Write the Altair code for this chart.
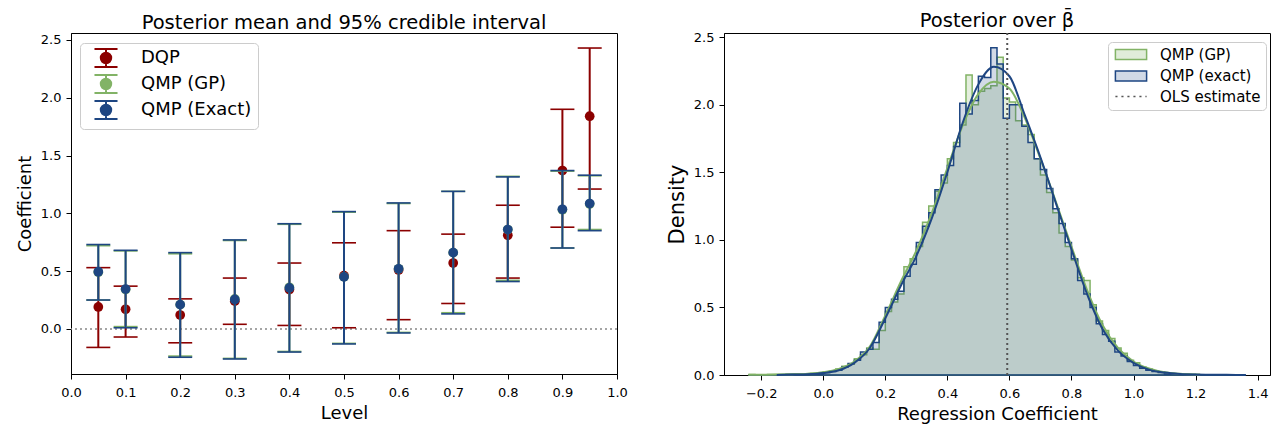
import altair as alt
import pandas as pd
import numpy as np

# ---------------- Left panel data ----------------
levels = [0.05, 0.1, 0.2, 0.3, 0.4, 0.5, 0.6, 0.7, 0.8, 0.9, 0.95]
dqp_mean = [0.19, 0.17, 0.12, 0.24, 0.34, 0.46, 0.51, 0.57, 0.81, 1.37, 1.84]
dqp_lo = [-0.16, -0.07, -0.12, 0.04, 0.03, 0.01, 0.08, 0.22, 0.44, 0.88, 1.21]
dqp_hi = [0.53, 0.37, 0.26, 0.44, 0.57, 0.745, 0.85, 0.82, 1.07, 1.90, 2.43]
gp_mean = [0.49, 0.34, 0.21, 0.26, 0.36, 0.45, 0.52, 0.66, 0.86, 1.03, 1.08]
gp_lo = [0.25, 0.02, -0.235, -0.255, -0.195, -0.125, -0.03, 0.14, 0.42, 0.70, 0.86]
gp_hi = [0.72, 0.675, 0.65, 0.765, 0.905, 1.01, 1.085, 1.19, 1.32, 1.365, 1.325]
exact_mean = [0.495, 0.345, 0.21, 0.255, 0.355, 0.45, 0.52, 0.66, 0.86, 1.035, 1.085]
exact_lo = [0.25, 0.01, -0.245, -0.26, -0.2, -0.13, -0.035, 0.13, 0.41, 0.70, 0.85]
exact_hi = [0.73, 0.68, 0.66, 0.77, 0.91, 1.015, 1.09, 1.19, 1.315, 1.37, 1.33]

left_names = ["DQP", "QMP (GP)", "QMP (Exact)"]
left_colors = ["#8b0000", "#82b366", "#1e4682"]

# ---------------- Right panel data ----------------
bin_start = -0.24
bin_width = 0.02
hist_gp = [0.003, 0.0, 0.002, 0.003, 0.003, 0.004, 0.005, 0.006, 0.008, 0.01, 0.012, 0.016,
           0.022, 0.03, 0.045, 0.065, 0.08, 0.12, 0.15, 0.2, 0.19, 0.33, 0.47, 0.54, 0.6, 0.8,
           0.86, 0.95, 1.13, 1.25, 1.36, 1.42, 1.6, 1.72, 1.85, 2.22, 2.0, 2.1, 2.12, 2.14,
           2.35, 2.05, 2.02, 1.88, 1.85, 1.78, 1.6, 1.48, 1.35, 1.2, 1.05, 0.95, 0.85, 0.72,
           0.7, 0.52, 0.4, 0.33, 0.27, 0.2, 0.16, 0.11, 0.09, 0.06, 0.045, 0.03, 0.022, 0.015,
           0.01, 0.007, 0.005, 0.003, 0.002, 0.0, 0.0, 0.0, 0.0, 0.0, 0.0, 0.0]
hist_exact = [0.0, 0.0, 0.0, 0.0, 0.0, 0.002, 0.003, 0.004, 0.005, 0.006, 0.008, 0.012,
              0.018, 0.025, 0.035, 0.06, 0.085, 0.11, 0.17, 0.19, 0.24, 0.39, 0.5, 0.56, 0.62,
              0.73, 0.82, 0.98, 1.1, 1.2, 1.37, 1.48, 1.55, 1.69, 2.01, 1.93, 2.03, 2.21, 2.2,
              2.42, 2.3, 1.9, 2.0, 2.0, 1.84, 1.72, 1.6, 1.52, 1.38, 1.23, 1.12, 0.98, 0.86,
              0.7, 0.6, 0.5, 0.38, 0.3, 0.25, 0.17, 0.14, 0.1, 0.07, 0.05, 0.035, 0.025, 0.018,
              0.01, 0.008, 0.006, 0.004, 0.003, 0.002, 0.002, 0.001, 0.001, 0.001, 0.0, 0.001, 0.001]

kde_gp_x = [-0.24, -0.2, -0.15, -0.1, -0.05, 0.0, 0.05, 0.1, 0.15, 0.2, 0.25, 0.3, 0.35, 0.4,
            0.45, 0.5, 0.55, 0.6, 0.65, 0.7, 0.75, 0.8, 0.85, 0.9, 0.95, 1.0, 1.05, 1.1, 1.15,
            1.2, 1.215]
kde_gp_y = [0.001, 0.002, 0.004, 0.006, 0.01, 0.02, 0.045, 0.1, 0.21, 0.44, 0.69, 0.92, 1.2,
            1.53, 1.85, 2.08, 2.17, 2.12, 1.9, 1.6, 1.28, 0.95, 0.63, 0.37, 0.2, 0.1, 0.048,
            0.02, 0.009, 0.004, 0.003]
kde_exact_x = [-0.15, -0.1, -0.05, 0.0, 0.05, 0.1, 0.15, 0.2, 0.25, 0.3, 0.35, 0.4, 0.45, 0.5,
               0.55, 0.6, 0.65, 0.7, 0.75, 0.8, 0.85, 0.9, 0.95, 1.0, 1.05, 1.1, 1.15, 1.2,
               1.25, 1.3, 1.36]
kde_exact_y = [0.0, 0.003, 0.006, 0.015, 0.035, 0.09, 0.2, 0.42, 0.66, 0.88, 1.16, 1.5, 1.87,
               2.15, 2.28, 2.21, 1.92, 1.61, 1.27, 0.93, 0.6, 0.34, 0.18, 0.09, 0.04, 0.018,
               0.008, 0.004, 0.002, 0.001, 0.0]
ols_estimate = 0.593

right_names = ["QMP (GP)", "QMP (exact)", "OLS estimate"]
gp_color = "#82b366"
exact_color = "#1e4682"
ols_color = "#555555"

FONT = "DejaVu Sans"

# ---------------- Left panel ----------------
left_series = [
    ("DQP", dqp_mean, dqp_lo, dqp_hi, left_colors[0]),
    ("QMP (GP)", gp_mean, gp_lo, gp_hi, left_colors[1]),
    ("QMP (Exact)", exact_mean, exact_lo, exact_hi, left_colors[2]),
]

xl_scale = alt.Scale(domain=[0, 1], nice=False, zero=False)
yl_scale = alt.Scale(domain=[-0.39, 2.56], nice=False, zero=False)
xl_axis = alt.Axis(values=[round(0.1 * i, 1) for i in range(11)], format=".1f", title="Level",
                   labelPadding=7, titlePadding=5)
yl_axis = alt.Axis(values=[0, 0.5, 1.0, 1.5, 2.0, 2.5], format=".1f", title="Coefficient",
                   titlePadding=6)

zero_line = alt.Chart(pd.DataFrame({"v": [0.0]})).mark_rule(
    color="#888888", strokeDash=[2, 3], strokeWidth=1.5
).encode(y=alt.Y("v:Q", scale=yl_scale, axis=yl_axis))

left_layers = [zero_line]
for name, m, lo, hi, col in left_series:
    d = pd.DataFrame({"level": levels, "mean": m, "lo": lo, "hi": hi})
    base = alt.Chart(d)
    X = alt.X("level:Q", scale=xl_scale, axis=xl_axis)
    bars = base.mark_rule(color=col, strokeWidth=2).encode(
        x=X, y=alt.Y("lo:Q", scale=yl_scale, axis=yl_axis), y2="hi:Q")
    cap_lo = base.mark_tick(color=col, orient="horizontal", size=24, thickness=1.6, opacity=1).encode(
        x=X, y=alt.Y("lo:Q", scale=yl_scale, axis=yl_axis))
    cap_hi = base.mark_tick(color=col, orient="horizontal", size=24, thickness=1.6, opacity=1).encode(
        x=X, y=alt.Y("hi:Q", scale=yl_scale, axis=yl_axis))
    pts = base.mark_circle(color=col, size=95, opacity=1).encode(
        x=X, y=alt.Y("mean:Q", scale=yl_scale, axis=yl_axis))
    left_layers += [bars, cap_lo, cap_hi, pts]

# legend glyph: error bar with caps and a dot (unit = 8 px with symbolSize 256)
errbar_path = ("M-1.44,-1.125H1.44M0,-1.125V1.125M-1.44,1.125H1.44"
               "M0.65,0A0.65,0.65,0,1,1,-0.65,0A0.65,0.65,0,1,1,0.65,0Z")
left_legend = alt.Legend(
    title=None, orient="none", legendX=9, legendY=10, padding=6, strokeColor="#cccccc",
    fillColor="white", cornerRadius=4, labelFont=FONT, labelFontSize=18,
    labelColor="black", symbolType=errbar_path, symbolSize=256, symbolStrokeWidth=2,
    symbolFillColor="white", symbolOffset=11, rowPadding=0, labelOffset=26,
)
leg_left_df = pd.DataFrame({"series_l": left_names})
left_leg_layer = alt.Chart(leg_left_df).mark_point(filled=True).encode(
    fill=alt.Fill("series_l:N", scale=alt.Scale(domain=left_names, range=left_colors), legend=left_legend),
    stroke=alt.Stroke("series_l:N", scale=alt.Scale(domain=left_names, range=left_colors), legend=left_legend),
    opacity=alt.value(0),
)
left_layers.append(left_leg_layer)

left = alt.layer(*left_layers).properties(
    width=546, height=341,
    title=alt.TitleParams("Posterior mean and 95% credible interval", fontSize=19.5, font=FONT,
                          fontWeight="normal", offset=0),
)

# ---------------- Right panel ----------------
edges = [round(bin_start + bin_width * i, 4) for i in range(len(hist_gp) + 1)]


def step_table(h):
    return pd.DataFrame({"x": edges, "y": list(h) + [0.0]})


xr_scale = alt.Scale(domain=[-0.32, 1.44], nice=False, zero=False)
yr_scale = alt.Scale(domain=[0, 2.53], nice=False)
xr_axis = alt.Axis(values=[round(-0.2 + 0.2 * i, 1) for i in range(9)], format=".1f",
                   title="Regression Coefficient", labelPadding=7, titlePadding=5)
yr_axis = alt.Axis(values=[0, 0.5, 1.0, 1.5, 2.0, 2.5], format=".1f", title="Density",
                   titleFontSize=21, titlePadding=6)
XR = alt.X("x:Q", scale=xr_scale, axis=xr_axis)
YR = alt.Y("y:Q", scale=yr_scale, axis=yr_axis)

hist_gp_layer = alt.Chart(step_table(hist_gp)).mark_area(
    interpolate="step-after", fill=gp_color, fillOpacity=0.22, stroke=gp_color, strokeWidth=1.5
).encode(x=XR, y=YR)
hist_ex_layer = alt.Chart(step_table(hist_exact)).mark_area(
    interpolate="step-after", fill=exact_color, fillOpacity=0.2, stroke=exact_color, strokeWidth=1.5
).encode(x=XR, y=YR)
kde_gp_layer = alt.Chart(pd.DataFrame({"x": kde_gp_x, "y": kde_gp_y})).mark_line(
    interpolate="monotone", color=gp_color, strokeWidth=2).encode(x=XR, y=YR)
kde_ex_layer = alt.Chart(pd.DataFrame({"x": kde_exact_x, "y": kde_exact_y})).mark_line(
    interpolate="monotone", color=exact_color, strokeWidth=2).encode(x=XR, y=YR)
ols_layer = alt.Chart(pd.DataFrame({"x": [ols_estimate]})).mark_rule(
    color=ols_color, strokeDash=[2, 3], strokeWidth=2).encode(x=XR)

# legend glyphs (unit = 6 px with symbolSize 144)
patch_path = "M-2.6,-0.85H2.6V0.85H-2.6Z"
dots_path = "M-2.6,0H-2.25M-1.6,0H-1.25M-0.6,0H-0.25M0.4,0H0.75M1.4,0H1.75M2.4,0H2.6"
right_legend = alt.Legend(
    title=None, orient="none", legendX=384, legendY=9, padding=5, strokeColor="#cccccc",
    fillColor="white", cornerRadius=4, labelFont=FONT, labelFontSize=15,
    labelColor="black", symbolSize=144, symbolStrokeWidth=1.5, symbolFillColor="white",
    symbolOffset=10.5, rowPadding=4.5, labelOffset=21.5,
)
leg_right_df = pd.DataFrame({"series_r": right_names})
fill_rng = ["#e0ecd9", "#d0d9e6", ols_color]
stroke_rng = [gp_color, exact_color, ols_color]
right_leg_layer = alt.Chart(leg_right_df).mark_point(filled=True).encode(
    fill=alt.Fill("series_r:N", scale=alt.Scale(domain=right_names, range=fill_rng), legend=right_legend),
    stroke=alt.Stroke("series_r:N", scale=alt.Scale(domain=right_names, range=stroke_rng), legend=right_legend),
    shape=alt.Shape("series_r:N", scale=alt.Scale(domain=right_names, range=[patch_path, patch_path, dots_path]),
                    legend=right_legend),
    opacity=alt.value(0),
)

right = alt.layer(hist_gp_layer, hist_ex_layer, kde_gp_layer, kde_ex_layer, ols_layer,
                  right_leg_layer).properties(
    width=546, height=342,
    title=alt.TitleParams("Posterior over β̄", fontSize=19.5, font=FONT, fontWeight="normal", offset=0),
)

chart = alt.hconcat(left, right, spacing=37).resolve_scale(
    fill="independent", stroke="independent", shape="independent"
).resolve_legend(
    fill="independent", stroke="independent", shape="independent"
).configure(padding={"top": 2, "left": 7, "right": 5, "bottom": 2}).configure_axis(
    labelFont=FONT, titleFont=FONT, labelFontSize=13, titleFontSize=18, titleFontWeight="normal",
    labelColor="black", titleColor="black", domainColor="black", tickColor="black",
    tickSize=5, grid=False, labelFlush=False, labelPadding=5,
).configure_view(stroke="black", strokeWidth=1)

chart.save("out.html", embed_options={"renderer": "svg", "actions": False})
